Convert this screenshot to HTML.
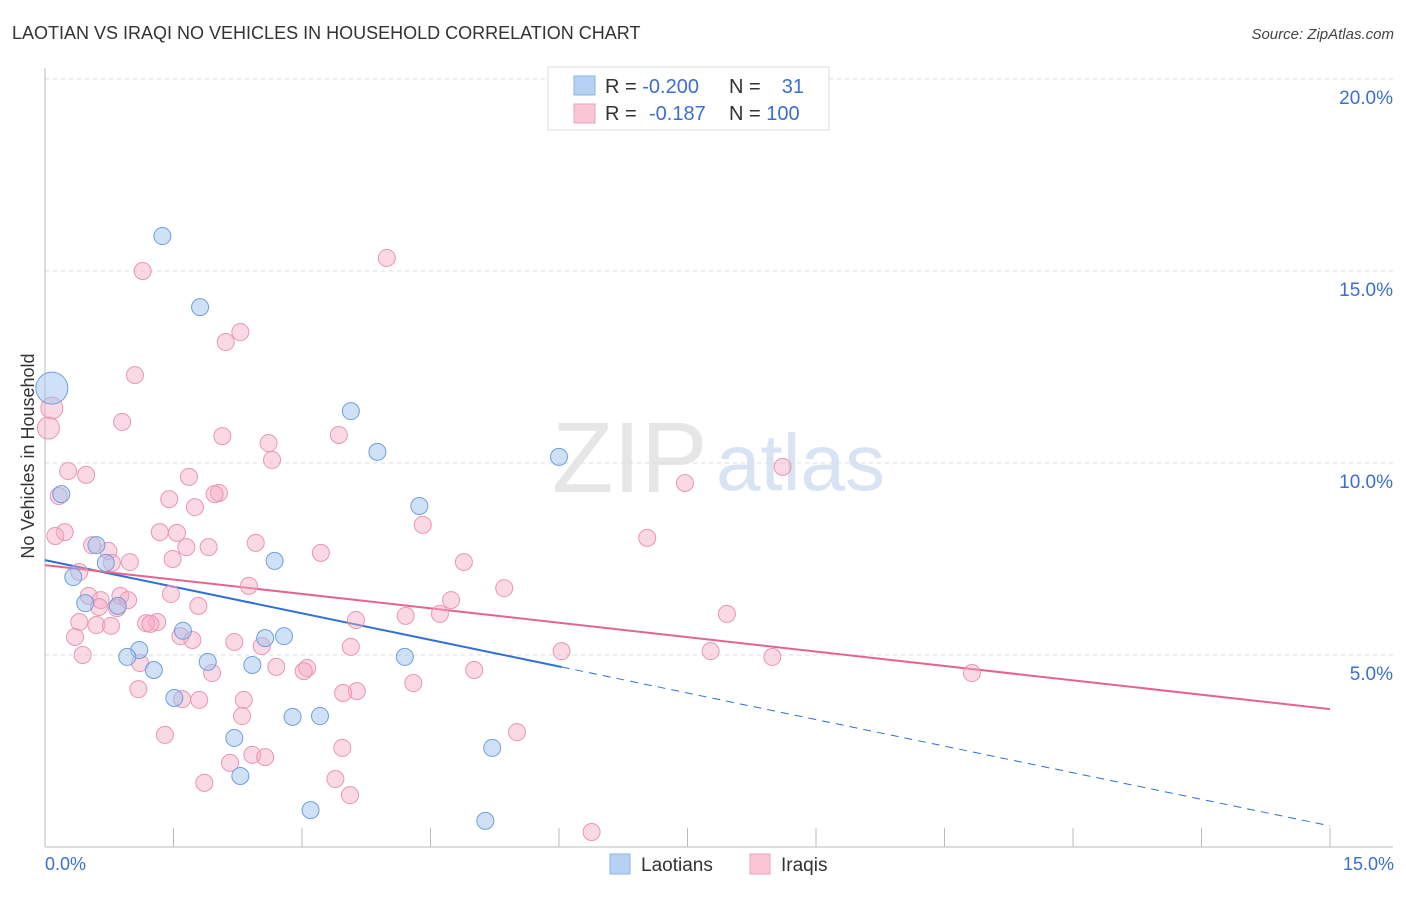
<!DOCTYPE html>
<html><head><meta charset="utf-8"><style>
body{margin:0;background:#fff;font-family:"Liberation Sans",sans-serif;}
svg text{font-family:"Liberation Sans",sans-serif;}
</style></head><body>
<svg id="chart" width="1406" height="892" viewBox="0 0 1406 892" xmlns="http://www.w3.org/2000/svg">
<text x="12" y="39" font-size="18" fill="#333">LAOTIAN VS IRAQI NO VEHICLES IN HOUSEHOLD CORRELATION CHART</text>
<text x="1394" y="39" font-size="15" fill="#444" text-anchor="end" font-style="italic">Source: ZipAtlas.com</text>
<g>
<text x="552" y="492" font-size="100" font-family="Liberation Serif" fill="#e6e6e6">ZIP</text>
<text x="716" y="490" font-size="80" fill="#d8e4f3">atlas</text>
</g>
<g id="grid"></g>
<g id="axes"></g>
<g id="trends"></g>
<g id="points"></g>
<text transform="translate(34,456) rotate(-90)" font-size="18" fill="#333" text-anchor="middle">No Vehicles in Household</text>
<g>
<rect x="548" y="67" width="281" height="63" fill="#fff" stroke="#ddd"/>
<rect x="574" y="76" width="21" height="19" fill="#b6d1f3" stroke="#8db3e6"/>
<rect x="574" y="104" width="21" height="19" fill="#fac6d6" stroke="#eea0b8"/>
<text x="605" y="93" font-size="20" fill="#333">R = <tspan fill="#3a6fd0">-0.200</tspan></text>
<text x="729" y="93" font-size="20" fill="#333">N =</text>
<text x="804" y="93" font-size="20" fill="#3a6fd0" text-anchor="end">31</text>
<text x="605" y="120" font-size="20" fill="#333">R = </text>
<text x="649" y="120" font-size="20" fill="#3a6fd0">-0.187</text>
<text x="729" y="120" font-size="20" fill="#333">N = <tspan fill="#3a6fd0">100</tspan></text>
</g>
<g>
<rect x="610" y="854" width="20" height="20" fill="#b6d1f3" stroke="#8db3e6"/>
<text x="641" y="871" font-size="19" fill="#333">Laotians</text>
<rect x="750" y="854" width="20" height="20" fill="#fac6d6" stroke="#eea0b8"/>
<text x="781" y="871" font-size="19" fill="#333">Iraqis</text>
</g>
</svg>
<script>
const yTicks=[5,10,15,20];
const yTickLabels=["5.0%","10.0%","15.0%","20.0%"];
const xTickLabels=["0.0%","15.0%"];
const laoX=[1.37,1.81,0.08,3.57,3.88,6.00,0.19,4.37,0.60,0.71,2.68,0.33,0.47,0.85,1.10,1.61,2.57,2.79,0.96,1.27,1.90,2.42,4.20,1.51,2.89,3.21,2.21,5.22,2.28,3.10,5.14];
const laoY=[15.91,14.06,11.95,11.35,10.29,10.16,9.19,8.88,7.86,7.40,7.45,7.03,6.35,6.28,5.13,5.63,5.44,5.49,4.95,4.61,4.82,4.74,4.95,3.88,3.39,3.41,2.84,2.58,1.85,0.96,0.68];
const laoBig=[2];
const iraX=[1.14,3.99,2.28,2.11,1.05,0.08,0.04,0.90,2.07,3.43,2.61,2.65,0.27,0.48,1.68,8.61,7.47,2.03,1.98,1.45,0.16,1.75,4.41,0.23,0.12,1.34,1.54,7.03,0.55,0.74,1.91,2.46,1.65,3.22,0.99,1.49,4.89,0.78,0.40,2.38,5.36,1.47,0.51,0.88,0.97,0.65,4.74,1.79,0.63,0.84,4.21,4.61,7.96,0.40,1.31,0.60,1.18,1.23,0.77,3.63,0.35,1.58,1.72,2.21,2.53,3.57,6.03,7.77,8.49,0.44,1.11,2.70,3.06,3.02,5.01,1.95,10.82,4.30,1.09,3.64,3.48,2.32,1.80,1.60,2.30,1.40,5.51,3.47,2.42,2.57,2.16,3.39,1.86,3.56,6.38];
const iraY=[15.0,15.34,13.41,13.15,12.29,11.43,10.91,11.07,10.70,10.73,10.52,10.08,9.79,9.69,9.64,9.90,9.48,9.22,9.19,9.06,9.14,8.85,8.39,8.20,8.10,8.20,8.18,8.05,7.86,7.71,7.81,7.92,7.81,7.66,7.42,7.50,7.42,7.40,7.16,6.80,6.74,6.59,6.54,6.54,6.43,6.43,6.43,6.28,6.25,6.22,6.02,6.07,6.07,5.86,5.86,5.78,5.83,5.81,5.76,5.91,5.47,5.49,5.39,5.34,5.23,5.21,5.10,5.10,4.95,5.00,4.79,4.69,4.66,4.58,4.61,4.53,4.53,4.27,4.11,4.06,4.01,3.83,3.83,3.85,3.41,2.92,2.99,2.58,2.40,2.34,2.19,1.77,1.67,1.35,0.39];
const iraBig=[5,6];
const laoTrend=[7.47,0.55];
const laoSolidEnd=6.03;
const iraTrend=[7.34,3.59];
const X0=45,X1=1330,Y0=847,PPY=38.4;
const sx=v=>X0+(X1-X0)*v/15;
const sy=v=>Y0-v*PPY;
const NS="http://www.w3.org/2000/svg";
function mk(tag,attrs,parent){const e=document.createElementNS(NS,tag);for(const k in attrs)e.setAttribute(k,attrs[k]);document.getElementById(parent).appendChild(e);return e;}
yTicks.forEach((t,i)=>{
 const l=mk('line',{x1:X0,x2:1393,y1:sy(t),y2:sy(t),stroke:'#ddd','stroke-dasharray':'4,4'},'grid');
 
 
 const tx=mk('text',{x:1393,y:sy(t)+25,'font-size':19,fill:'#3a6fd0','text-anchor':'end'},'axes');
 tx.textContent=yTickLabels[i];
 
 
});
let a=mk('line',{x1:X0,x2:1393,y1:Y0,y2:Y0,stroke:'#bbb'},'axes');


a=mk('line',{x1:X0,x2:X0,y1:68,y2:Y0,stroke:'#bbb'},'axes');


for(let i=0;i<=10;i++){const v=i*1.5;
 const t=mk('line',{x1:sx(v),x2:sx(v),y1:Y0,y2:Y0-19,stroke:'#bbb'},'axes');
 
 }
[[0,'start',45],[15,'end',1394]].forEach((p,i)=>{
 const t=mk('text',{x:p[2],y:870,'font-size':18,fill:'#3a6fd0','text-anchor':p[1]},'axes');
 t.textContent=xTickLabels[i];
 
 });
const laoAt=x=>laoTrend[0]+(laoTrend[1]-laoTrend[0])*x/15;
let tl=mk('line',{x1:sx(0),y1:sy(laoTrend[0]),x2:sx(laoSolidEnd),y2:sy(laoAt(laoSolidEnd)),stroke:'#2f6fd6','stroke-width':2},'trends');


tl=mk('line',{x1:sx(laoSolidEnd),y1:sy(laoAt(laoSolidEnd)),x2:sx(15),y2:sy(laoTrend[1]),stroke:'#2f6fd6','stroke-width':1,'stroke-dasharray':'8,6'},'trends');


tl=mk('line',{x1:sx(0),y1:sy(iraTrend[0]),x2:sx(15),y2:sy(iraTrend[1]),stroke:'#e5648f','stroke-width':2},'trends');


iraX.forEach((x,i)=>{
 const r=iraBig.includes(i)?11:8.5;
 const c=mk('circle',{cx:sx(x),cy:sy(iraY[i]),r:r,fill:'rgba(246,170,195,0.45)',stroke:'#e996b1','stroke-width':1},'points');
 
 
});
laoX.forEach((x,i)=>{
 const r=laoBig.includes(i)?16:8.5;
 const c=mk('circle',{cx:sx(x),cy:sy(laoY[i]),r:r,fill:'rgba(160,195,240,0.5)',stroke:'#6f9edd','stroke-width':1},'points');
 
 
});
</script>
</body></html>
